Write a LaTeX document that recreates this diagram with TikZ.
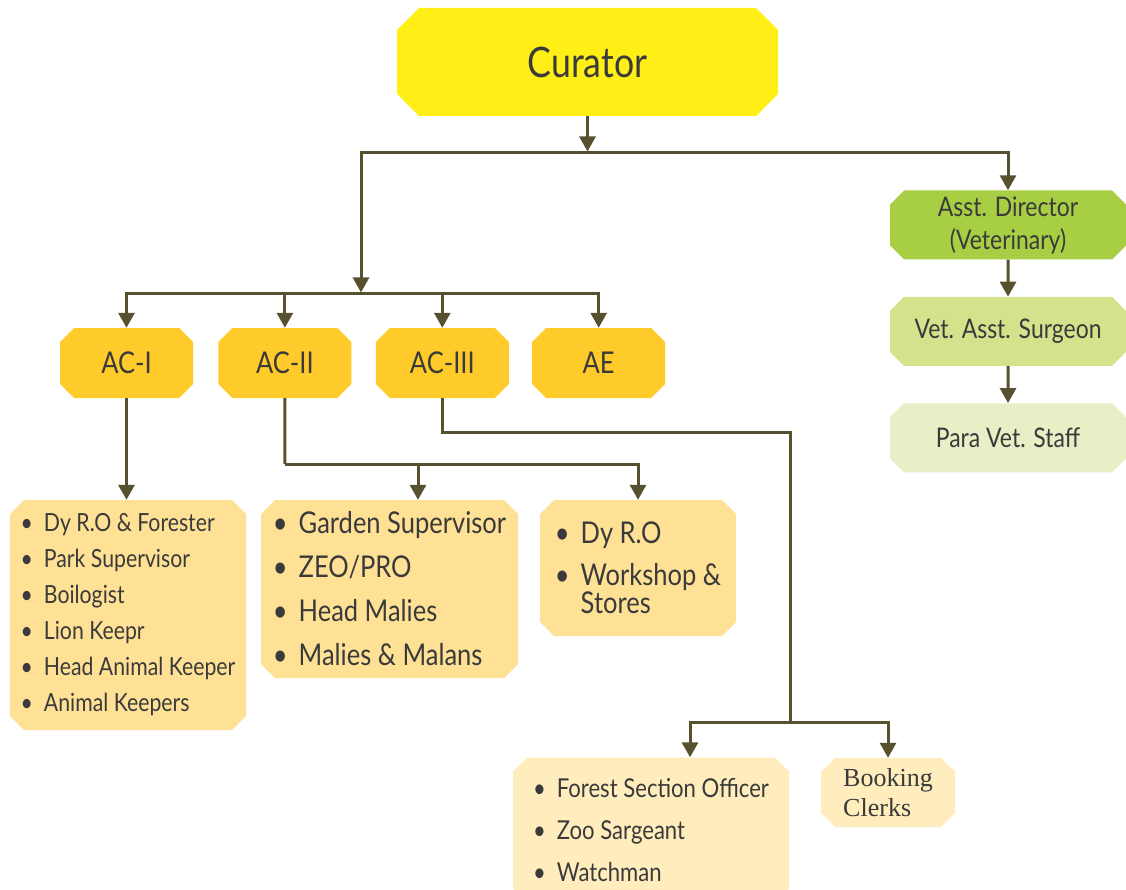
\documentclass[tikz,border=0pt]{standalone}
\usepackage{fontspec}
\setmainfont{Lato}[FakeStretch=0.85]
\newfontfamily\clerkfont{Liberation Serif}
\usetikzlibrary{shapes.misc, arrows.meta, positioning}
\definecolor{curatorfill}{HTML}{FFEF17}
\definecolor{officefill}{HTML}{FFCB2B}
\definecolor{stafffill}{HTML}{FFE196}
\definecolor{guardfill}{HTML}{FFEDBD}
\definecolor{vetdark}{HTML}{A8CE44}
\definecolor{vetmid}{HTML}{D3E38C}
\definecolor{vetlight}{HTML}{E6EFC6}
\definecolor{linecol}{HTML}{58512F}
\definecolor{textdark}{HTML}{3A3A3A}
\newcommand{\itm}{\textbullet\hspace{11pt}}

\begin{document}
\begin{tikzpicture}[
    box/.style={chamfered rectangle, chamfered rectangle sep=7pt, inner sep=0pt, text=textdark, align=center},
    boss/.style={box, chamfered rectangle sep=11pt, fill=curatorfill, minimum width=381pt, minimum height=108pt, font=\fontsize{42}{50}\selectfont},
    office/.style={box, fill=officefill, minimum width=133pt, minimum height=70pt, font=\fontsize{30}{36}\selectfont},
    vetbox/.style={box, minimum width=236pt, minimum height=69pt, font=\fontsize{27}{33}\selectfont},
    staff/.style={box, fill=stafffill, align=left},
    conn/.style={draw=linecol, line width=3pt},
    arr/.style={conn, -{Triangle[length=15pt, width=16pt]}}
 ]
\useasboundingbox (0,0) rectangle (1126pt,-890pt);

% top
\node[boss] (curator) at (587.5pt,-62pt) {Curator};

% assistant curators
\node[office] (ac1) at (126.5pt,-363pt) {AC-I};
\node[office, right=25pt of ac1] (ac2) {AC-II};
\node[office, right=24pt of ac2] (ac3) {AC-III};
\node[office, right=23pt of ac3] (ae) {AE};

% veterinary side
\node[vetbox, fill=vetdark, inner ysep=-5pt] (vetdir) at (1008pt,-225pt) {Asst. Director\\(Veterinary)};
\node[vetbox, fill=vetmid, below=37pt of vetdir] (vetsurg) {Vet. Asst. Surgeon};
\node[vetbox, fill=vetlight, below=37pt of vetsurg] (vetstaff) {Para Vet. Staff};

% staff lists
\node[staff, minimum width=236pt, minimum height=230pt, font=\fontsize{25}{36}\selectfont] (keepers) at (128pt,-615pt)
    {\itm Dy R.O \& Forester\\\itm Park Supervisor\\\itm Boilogist\\\itm Lion Keepr\\\itm Head Animal Keeper\\\itm Animal Keepers};
\node[staff, minimum width=257pt, minimum height=178pt, font=\fontsize{30}{44}\selectfont] (gardens) at (389.5pt,-589pt)
    {\itm Garden Supervisor\\\itm ZEO/PRO\\\itm Head Malies\\\itm Malies \& Malans};
\node[staff, minimum width=196pt, minimum height=136pt, font=\fontsize{30}{28}\selectfont] (works) at (638pt,-568pt)
    {\itm Dy R.O\\[14pt]\itm Workshop \&\\\phantom{\itm}Stores};
\node[staff, fill=guardfill, minimum width=276pt, minimum height=145pt, font=\fontsize{26}{42}\selectfont] (guards) at (651pt,-830pt)
    {\itm Forest Section Officer\\\itm Zoo Sargeant\\\itm Watchman};
\node[staff, fill=guardfill, minimum width=134pt, minimum height=69pt, font=\clerkfont\fontsize{26}{30}\selectfont] (clerks) at (888pt,-792.5pt)
    {Booking\\Clerks};

% connectors
\coordinate (j1) at (587.5pt,-153pt);
\coordinate (j2) at (361pt,-294pt);
\draw[arr, shorten >=1.5pt] (curator) -- (j1);
\draw[arr] (j1) -| (vetdir);
\draw[arr, shorten >=1.5pt] (j1) -| (j2);
\draw[arr] (j2) -| (ac1);
\draw[arr] (j2) -| (ae);
\draw[arr] (j2 -| ac2) -- (ac2);
\draw[arr] (j2 -| ac3) -- (ac3);
\draw[arr] (vetdir) -- (vetsurg);
\draw[arr] (vetsurg) -- (vetstaff);

\draw[arr] (ac1.south) -- (ac1.south |- keepers.north);

\coordinate (j3) at ([yshift=-66pt]ac2.south);
\draw[conn] (ac2) -- (j3);
\draw[arr] (j3) -| ([xshift=28.5pt]gardens.north);
\draw[arr] (j3) -| (works);

\coordinate (k3) at (790pt,-432pt);
\coordinate (j4) at (790pt,-722pt);
\draw[conn] (ac3) |- (k3) -- (j4);
\draw[arr] (j4) -| ([xshift=39pt]guards.north);
\draw[arr] (j4) -| (clerks);

\end{tikzpicture}
\end{document}
